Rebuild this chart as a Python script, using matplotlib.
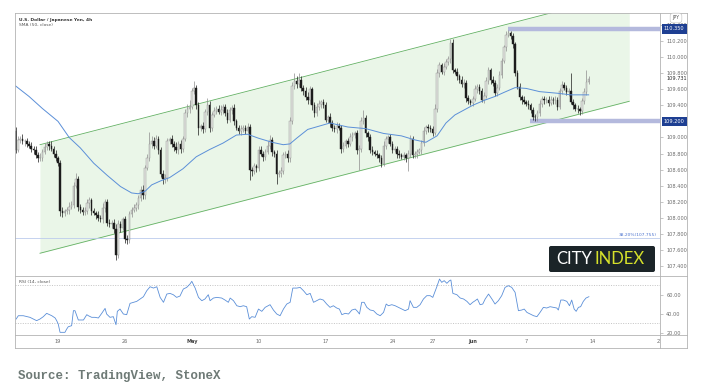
import numpy as np
import matplotlib.pyplot as plt
from matplotlib.patches import FancyBboxPatch
from matplotlib.transforms import blended_transform_factory, Bbox, TransformedBbox

# USD/JPY 4h bars, index 0 = Mon 19 Apr 00:00, 6 bars per trading day
first_open = 109.08
closes = [
    # Apr 14-16
    108.85, 108.97, 108.98, 108.95, 108.95, 108.92, 108.90, 108.86, 108.84, 108.78,
    108.74, 108.75, 108.82, 108.88, 108.92, 108.90, 108.86, 108.80, 108.74,
    # week of Apr 19
    108.68, 108.08, 108.06, 108.08, 108.10, 108.14, 108.16, 108.40, 108.48, 108.14,
    108.10, 108.07, 108.08, 108.18, 108.22, 108.08, 108.06, 108.03, 108.00, 107.98,
    108.12, 108.20, 107.94, 107.92, 107.94, 107.86, 107.54, 107.92, 107.88, 107.98,
    # week of Apr 26
    107.74, 107.72, 108.05, 108.10, 108.12, 108.16, 108.25, 108.35, 108.28, 108.62,
    108.75, 108.92, 108.96, 108.90, 108.98, 108.85, 108.55, 108.48, 108.50, 108.95,
    108.98, 108.92, 108.88, 108.84, 108.92, 108.86, 108.98, 109.30, 109.36, 109.38,
    # week of May 3
    109.58, 109.62, 109.40, 109.12, 109.14, 109.10, 109.32, 109.40, 109.12, 109.28,
    109.33, 109.36, 109.32, 109.34, 109.38, 109.30, 109.22, 109.34, 109.37, 109.20,
    109.12, 109.08, 109.10, 109.12, 109.08, 109.13, 108.60, 108.58, 108.64, 108.62,
    # week of May 10
    108.85, 108.80, 108.76, 108.82, 108.90, 108.97, 108.82, 108.80, 108.55, 108.56,
    108.58, 108.78, 108.80, 108.74, 109.20, 109.64, 109.70, 109.66, 109.72, 109.62,
    109.58, 109.50, 109.46, 109.60, 109.40, 109.30, 109.38, 109.42, 109.44, 109.40,
    # week of May 17
    109.22, 109.25, 109.18, 109.12, 109.10, 109.14, 109.12, 108.86, 108.90, 108.95,
    108.92, 109.00, 109.03, 109.05, 108.84, 108.86, 109.20, 109.24, 109.05, 109.00,
    108.84, 108.82, 108.80, 108.78, 108.74, 108.67, 108.90, 108.98, 109.00, 108.92,
    # week of May 24
    108.85, 108.86, 108.80, 108.78, 108.76, 108.78, 108.74, 108.80, 108.98, 108.78,
    108.80, 108.82, 108.84, 108.93, 109.08, 109.13, 109.12, 109.10, 109.06, 109.36,
    109.80, 109.90, 109.82, 109.88, 109.94, 109.98, 110.18, 109.84, 109.82, 109.76,
    # week of May 31
    109.72, 109.66, 109.68, 109.49, 109.45, 109.43, 109.48, 109.60, 109.63, 109.58,
    109.47, 109.52, 109.70, 109.84, 109.72, 109.68, 109.55, 109.62, 109.78, 109.95,
    110.12, 110.28, 110.30, 110.26, 110.16, 109.80, 109.63, 109.50, 109.47, 109.44,
    # week of Jun 7
    109.42, 109.40, 109.34, 109.26, 109.25, 109.30, 109.42, 109.48, 109.46, 109.47,
    109.43, 109.47, 109.46, 109.47, 109.38, 109.58, 109.65, 109.62, 109.57, 109.58,
    109.44, 109.40, 109.36, 109.35, 109.33, 109.45, 109.57, 109.69, 109.73,
]
# wick lengths in pips above / below the body
up_wick = [
    5, 5, 4, 6, 3, 4, 3, 4, 3, 5, 4, 6, 4, 5, 4, 3, 5, 3, 4,
    3, 4, 5, 3, 4, 6, 5, 4, 8, 4, 3, 4, 5, 6, 4, 3, 4, 3, 5, 4, 6, 4, 3, 5, 3, 4, 6, 5, 4, 3,
    4, 5, 4, 3, 5, 4, 4, 5, 6, 4, 5, 15, 6, 4, 5, 4, 3, 4, 5, 4, 3, 5, 4, 6, 4, 5, 4, 6, 5, 8,
    4, 8, 3, 4, 3, 5, 4, 9, 5, 4, 5, 3, 4, 6, 4, 3, 5, 4, 3, 4, 3, 4, 5, 3, 4, 5, 4, 3, 4, 3,
    4, 5, 3, 4, 5, 6, 4, 3, 4, 3, 5, 4, 3, 4, 6, 5, 10, 6, 8, 4, 3, 5, 6, 4, 3, 4, 5, 4, 3, 4,
    4, 3, 5, 4, 3, 5, 4, 3, 4, 3, 4, 5, 4, 3, 4, 5, 6, 10, 4, 3, 4, 5, 3, 4, 3, 4, 5, 4, 3, 4,
    4, 3, 4, 5, 3, 4, 3, 4, 5, 4, 3, 4, 3, 4, 5, 3, 4, 3, 4, 6, 5, 4, 3, 5, 4, 3, 4, 5, 3, 4,
    3, 4, 5, 3, 4, 3, 4, 5, 3, 4, 3, 4, 5, 4, 3, 4, 3, 4, 5, 4, 3, 5, 4, 3, 4, 3, 4, 5, 3, 4,
    3, 4, 3, 4, 3, 4, 5, 3, 4, 3, 5, 4, 3, 4, 3, 4, 5, 4, 3, 4, 22, 4, 3, 4, 3, 4, 5, 15, 4,
]
down_wick = [
    4, 3, 4, 3, 5, 4, 3, 4, 5, 3, 4, 3, 4, 3, 4, 5, 3, 4, 3,
    4, 6, 5, 4, 3, 5, 3, 4, 3, 5, 4, 3, 4, 3, 6, 4, 3, 5, 4, 3, 4, 5, 4, 3, 4, 5, 6, 4, 5, 3,
    5, 4, 3, 4, 3, 4, 5, 4, 4, 5, 3, 4, 5, 4, 3, 5, 4, 6, 5, 4, 3, 4, 5, 3, 4, 5, 4, 3, 4, 5,
    3, 4, 5, 9, 4, 5, 3, 4, 5, 4, 3, 4, 3, 4, 5, 3, 4, 3, 5, 4, 3, 4, 5, 3, 4, 3, 13, 6, 4, 5,
    4, 3, 5, 4, 3, 4, 5, 4, 13, 4, 5, 3, 4, 5, 4, 3, 4, 5, 3, 4, 5, 3, 4, 5, 6, 4, 3, 4, 5, 3,
    3, 4, 5, 4, 3, 4, 3, 5, 4, 3, 4, 3, 5, 4, 4, 24, 4, 3, 4, 5, 3, 4, 3, 4, 5, 4, 3, 4, 5, 3,
    4, 3, 5, 4, 3, 4, 5, 16, 4, 3, 4, 5, 3, 4, 3, 4, 5, 3, 4, 3, 4, 5, 3, 4, 3, 4, 5, 4, 3, 4,
    4, 3, 4, 5, 4, 3, 4, 3, 5, 4, 3, 4, 3, 4, 5, 4, 3, 4, 3, 4, 3, 4, 3, 4, 5, 4, 3, 4, 5, 3,
    3, 4, 3, 4, 5, 4, 3, 4, 5, 3, 4, 3, 4, 5, 4, 3, 4, 3, 4, 5, 3, 4, 3, 4, 5, 4, 3, 4, 3,
]
first_bar = -19

sma_i = [-19, -13, -7, 0, 5, 10, 16, 22, 28, 33, 36, 39, 42, 46, 50, 56, 62, 68, 74, 80,
         85, 90, 96, 101, 104, 107, 112, 117, 122, 130, 138, 146, 154, 160, 165, 170, 174,
         178, 182, 186, 191, 196, 200, 205, 210, 216, 224, 230, 238]
sma_v = [109.64, 109.51, 109.36, 109.20, 109.00, 108.87, 108.68, 108.53, 108.39, 108.31,
         108.30, 108.33, 108.41, 108.46, 108.50, 108.61, 108.76, 108.85, 108.93, 109.03,
         109.04, 108.99, 108.94, 108.91, 108.92, 108.99, 109.10, 109.14, 109.18, 109.13,
         109.11, 109.05, 109.02, 108.97, 108.94, 109.02, 109.18, 109.28, 109.34, 109.40,
         109.46, 109.51, 109.56, 109.62, 109.61, 109.57, 109.55, 109.53, 109.53]

rsi_i = [-18.8, -17.8, -15.6, -12.6, -9.6, -8.1, -6.6, -5.1, -2.8, -1.3,
         -0.6, 0.1, 0.9, 3.1, 3.9, 4.6, 6.1, 6.9, 7.6, 9.1,
         11.4, 12.9, 13.6, 15.1, 16.6, 18.1, 19.6, 21.1, 21.8, 23.3,
         24.8, 26.0, 26.6, 27.8, 29.3, 30.8, 32.3, 33.8, 35.3, 36.8,
         38.3, 39.8, 41.3, 42.8, 44.3, 45.8, 47.3, 48.8, 50.2, 51.7,
         53.2, 54.7, 56.2, 57.7, 59.2, 60.0, 61.5, 63.0, 64.5, 65.9,
         67.4, 68.2, 69.7, 71.2, 73.4, 74.9, 76.4, 77.2, 78.7, 80.2,
         81.7, 83.1, 84.6, 85.8, 86.9, 88.4, 89.9, 91.4, 92.9, 95.1,
         96.6, 98.1, 99.6, 101.1, 102.6, 104.1, 105.3, 107.1, 108.6, 110.1,
         111.6, 113.1, 114.6, 116.0, 117.5, 119.0, 120.5, 122.0, 123.5, 125.0,
         126.2, 127.3, 128.8, 130.3, 131.8, 133.3, 134.3, 135.2, 136.2, 137.3,
         138.5, 140.0, 141.5, 143.0, 144.5, 146.0, 147.2, 148.2, 149.7, 151.2,
         152.7, 154.2, 155.7, 157.2, 157.9, 159.4, 160.9, 162.4, 163.9, 165.4,
         166.9, 168.1, 169.9, 171.1, 172.1, 173.2, 174.4, 175.6, 176.2, 177.1,
         178.9, 180.4, 181.9, 183.4, 184.8, 186.0, 187.1, 188.1, 189.3, 190.5,
         191.6, 193.1, 194.6, 196.0, 197.5, 199.0, 200.5, 202.0, 203.5, 205.0,
         206.5, 208.0, 209.1, 210.3, 211.8, 213.3, 214.8, 216.2, 217.7, 219.2,
         220.7, 222.2, 223.7, 224.4, 225.5, 226.7, 228.2, 229.4, 230.4, 231.5,
         232.4, 233.4, 234.4, 235.6, 236.8, 238.1]
rsi_v = [34.2, 37.7, 37.7, 36.0, 32.5, 34.2, 36.7, 40.2, 37.7, 35.3,
         32.5, 28.9, 20.2, 20.2, 23.7, 26.1, 27.2, 43.0, 43.0, 33.2,
         33.2, 38.8, 37.7, 36.0, 36.0, 35.3, 40.2, 45.4, 39.5, 36.0,
         36.7, 28.2, 42.3, 44.7, 39.5, 38.8, 50.7, 51.8, 52.8, 55.3,
         57.7, 64.0, 68.2, 66.8, 68.2, 57.0, 51.8, 60.5, 61.2, 59.8,
         57.0, 58.4, 65.8, 67.5, 71.1, 73.9, 66.8, 57.0, 53.5, 55.3,
         59.8, 53.5, 56.3, 57.0, 56.3, 54.2, 51.8, 56.3, 53.5, 48.2,
         47.2, 48.2, 47.2, 34.2, 36.7, 36.0, 44.7, 42.3, 46.5, 49.3,
         43.7, 39.5, 37.7, 44.7, 50.0, 51.8, 66.8, 66.8, 67.5, 64.0,
         59.8, 61.2, 51.8, 53.5, 55.3, 54.2, 50.0, 46.5, 48.2, 45.8,
         44.7, 38.8, 40.2, 39.5, 43.7, 44.7, 42.3, 39.5, 51.8, 51.8,
         46.5, 43.7, 43.0, 39.5, 37.7, 41.2, 50.0, 48.2, 49.3, 48.2,
         46.5, 44.7, 43.0, 44.7, 53.5, 46.5, 46.5, 49.3, 55.3, 58.8,
         58.8, 57.0, 68.2, 76.3, 72.8, 74.6, 71.8, 74.6, 75.3, 61.2,
         59.8, 56.3, 55.3, 52.8, 49.3, 51.8, 53.5, 55.3, 49.3, 50.0,
         55.3, 60.5, 55.3, 50.0, 53.5, 58.8, 67.5, 69.3, 67.5, 62.3,
         43.0, 43.7, 44.7, 41.2, 39.5, 37.7, 36.7, 41.2, 46.5, 45.8,
         47.2, 46.5, 45.8, 43.7, 54.2, 54.2, 52.8, 48.2, 54.2, 44.7,
         42.3, 46.5, 47.2, 52.8, 56.3, 57.7]

channel_x = [-8.1, 256.2]
channel_low = [107.56, 109.45]
channel_high = [108.91, 110.80]
resist, support, fib = 110.35, 109.20, 107.755
last_price = 109.731

date_pos = [0, 30, 60, 90, 120, 150, 168, 186, 210, 240, 270]
date_lbl = ['19', '26', 'May', '10', '17', '24', '27', 'Jun', '7', '14', '21']
price_ticks = [107.4, 107.6, 107.8, 108.0, 108.2, 108.4, 108.6, 108.8, 109.0,
               109.4, 109.6, 109.8, 110.0, 110.2, 110.4]

closes = np.array(closes)
idx = np.arange(first_bar, first_bar + len(closes))
opens = np.r_[first_open, closes[:-1]]
highs = np.maximum(opens, closes) + np.array(up_wick) / 100
lows = np.minimum(opens, closes) - np.array(down_wick) / 100
rising = closes >= opens

W, H = 701, 390
fig = plt.figure(figsize=(W / 100, H / 100), dpi=100)


def px_box(x0, y0, x1, y1):
    return [x0 / W, 1 - y1 / H, (x1 - x0) / W, (y1 - y0) / H]


ax = fig.add_axes(px_box(15, 13, 660, 276))
rx = fig.add_axes(px_box(15, 276, 660, 335))
ov = fig.add_axes([0, 0, 1, 1])
ov.set_xlim(0, W)
ov.set_ylim(H, 0)
ov.axis('off')

xlim = (-19.3, 270)
tick_col = '#6a6a6a'

# ---- price panel
ax.set_xlim(*xlim)
ax.set_ylim(107.277, 110.548)
for s in ax.spines.values():
    s.set_visible(False)
ax.set_xticks([])
ax.yaxis.tick_right()
ax.set_yticks(price_ticks)
ax.set_yticklabels([f'{v:.3f}' for v in price_ticks])
ax.tick_params(axis='y', length=2, width=0.4, color='#999999', labelsize=3.6,
               labelcolor=tick_col, pad=2.5)

ax.fill_between(channel_x, channel_low, channel_high, color='#eaf6e8', lw=0, zorder=1)
ax.plot(channel_x, channel_low, color='#63b163', lw=0.6, zorder=2)
ax.plot(channel_x, channel_high, color='#63b163', lw=0.6, zorder=2)
ax.axhline(fib, color='#bccbec', lw=0.6, zorder=2)
ax.text(0.995, fib + 0.01, '38.20%(107.755)', transform=blended_transform_factory(ax.transAxes, ax.transData),
        ha='right', va='bottom', fontsize=3.2, color='#4d74cf')
ax.hlines(resist, 202, xlim[1], color='#b4b9dd', lw=3.2, zorder=2)
ax.hlines(support, 211.8, xlim[1], color='#b4b9dd', lw=3.2, zorder=2)

ax.vlines(idx[rising], lows[rising], highs[rising], color='#8d8d8d', lw=0.5, zorder=3)
ax.vlines(idx[~rising], lows[~rising], highs[~rising], color='#1c1c1c', lw=0.5, zorder=3)
ax.bar(idx[rising], (closes - opens)[rising], bottom=opens[rising], width=0.7,
       color='#e4e6e1', edgecolor='#8d8d8d', linewidth=0.3, zorder=4)
ax.bar(idx[~rising], (closes - opens)[~rising], bottom=opens[~rising], width=0.7,
       color='#1c1c1c', edgecolor='#1c1c1c', linewidth=0.3, zorder=4)
ax.plot(sma_i, sma_v, color='#5b8fd8', lw=0.7, zorder=5)

bt = blended_transform_factory(ax.transAxes, ax.transData)
for val in (resist, support):
    ax.text(1.006, val, f'{val:.3f}', transform=bt, ha='left', va='center', fontsize=3.6,
            color='white', clip_on=False, zorder=6,
            bbox=dict(boxstyle='square,pad=0.45', fc='#1e3f92', ec='none'))
ax.text(1.01, last_price, f'{last_price:.3f}', transform=bt, ha='left', va='center',
        fontsize=3.6, color='#2a2a2a', clip_on=False)

# ---- RSI panel
rx.set_xlim(*xlim)
rx.set_ylim(17.4, 79.5)
for s in rx.spines.values():
    s.set_visible(False)
rx.axhline(70, color='#b0b0b0', lw=0.5, ls=(0, (1.5, 2)))
rx.axhline(30, color='#b0b0b0', lw=0.5, ls=(0, (1.5, 2)))
rx.plot(rsi_i, rsi_v, color='#5b8fd8', lw=0.6)
rx.yaxis.tick_right()
rx.set_yticks([20, 40, 60])
rx.set_yticklabels(['20.00', '40.00', '60.00'])
rx.tick_params(axis='y', length=2, width=0.4, color='#999999', labelsize=3.6,
               labelcolor=tick_col, pad=2.5)
rx.set_xticks(date_pos)
rx.set_xticklabels(date_lbl)
rx.tick_params(axis='x', length=0, labelsize=3.6, labelcolor=tick_col, pad=3)
clip = TransformedBbox(Bbox([[0, 0], [660 / W, 1]]), fig.transFigure)
for lbl in rx.get_xticklabels():
    if lbl.get_text() in ('May', 'Jun'):
        lbl.set_fontweight('bold')
        lbl.set_color('#444444')
    lbl.set_clip_box(clip)
    lbl.set_clip_on(True)

# ---- frame, captions, logo
fc = '#b3b3b3'
for y in (12.5, 276, 335, 347.5):
    ov.plot([15, 687], [y, y], color=fc, lw=0.6)
for x in (15, 660, 687):
    ov.plot([x, x], [12.5, 347.5], color=fc, lw=0.6)

ov.text(19, 20, 'U.S. Dollar / Japanese Yen, 4h', fontsize=3.2, color='#333333',
        fontweight='bold', va='center')
ov.text(19, 25, 'SMA (50, close)', fontsize=3.2, color='#555555', va='center')
ov.text(19, 282, 'RSI (14, close)', fontsize=3.2, color='#555555', va='center')
ov.text(676, 18, 'JPY', fontsize=3.4, color='#555555', ha='center', va='center',
        bbox=dict(boxstyle='round,pad=0.5,rounding_size=0.6', fc='white', ec='#bbbbbb', lw=0.4))

ov.add_patch(FancyBboxPatch((549, 246), 106, 26, boxstyle='round,pad=0,rounding_size=2',
                            fc='#1b2428', ec='none'))
ov.text(556, 259.5, 'CITY', fontsize=12, family='Lato', color='white', va='center')
ov.text(594, 259.5, 'INDEX', fontsize=12, family='Lato', color='#d6e12b', va='center')

ov.text(18, 376, 'Source: TradingView, StoneX', fontsize=9, family='Liberation Mono',
        color='#6e7a76', va='center', fontweight='bold')

fig.savefig('out.png', dpi=100)
